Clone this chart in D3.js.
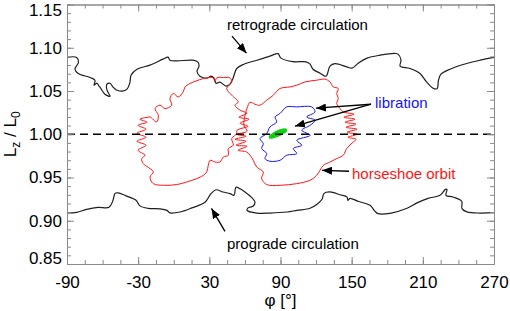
<!DOCTYPE html>
<html>
<head>
<meta charset="utf-8">
<title>Lz / L0 against phi</title>
<script src="https://cdn.jsdelivr.net/npm/d3@7"></script>
<style>
  body { margin: 0; background: #fff; }
  svg text { font-family: "Liberation Sans", Arial, sans-serif; }
</style>
</head>
<body>
<div id="chart"></div>
<script>
// trajectories: [phi (deg), Lz/L0]
var retrograde = [[-90,1.089],[-81.8,1.0888],[-80.3,1.0833],[-83.3,1.0752],[-80.5,1.0703],[-70.6,1.0656],[-66.4,1.0625],
  [-67.2,1.0567],[-64.7,1.059],[-63,1.0556],[-62.2,1.0544],[-58,1.0463],[-53.7,1.044],[-56.3,1.0509],[-56.3,1.0579],
  [-53.7,1.059],[-51.2,1.0544],[-47.8,1.0509],[-43.6,1.0498],[-39.4,1.0521],[-36.9,1.0602],[-36,1.0683],[-31,1.0752],
  [-20,1.0799],[-9.1,1.0868],[-4.8,1.0891],[-3.2,1.0856],[2.7,1.0848],[16.2,1.0856],[20.4,1.0833],[21.3,1.0787],
  [19.6,1.0729],[22.1,1.0671],[28,1.0648],[31.4,1.0671],[33.9,1.0648],[35.6,1.059],[39,1.0602],[44.1,1.0556],
  [47.4,1.0579],[50,1.0648],[53.1,1.076],[59.2,1.081],[70.2,1.0856],[81.1,1.0903],[87.9,1.0932],[90.4,1.088],
  [100.5,1.0839],[111.5,1.0837],[114.9,1.081],[117.4,1.0752],[123.3,1.0706],[128.4,1.0671],[131.7,1.0787],[136,1.0816],
  [145.8,1.0779],[150.3,1.0764],[155.3,1.0818],[162.9,1.088],[173.9,1.0914],[186.5,1.0934],[189.1,1.0926],[191.6,1.0856],
  [190.8,1.0787],[199.2,1.076],[207.6,1.0703],[213.3,1.0602],[218.6,1.0532],[222,1.0527],[223.2,1.0625],[225.3,1.0694],
  [232.9,1.0752],[247,1.0818],[258.2,1.0856],[270,1.0888]];

var prograde = [[-90,0.9091],[-81.8,0.9097],[-73.4,0.9132],[-63.9,0.9155],[-54.6,0.9155],[-51.2,0.9236],[-49.5,0.9317],
  [-47,0.9323],[-40.3,0.9288],[-31.8,0.9236],[-28.5,0.9172],[-21.7,0.9144],[-11.6,0.9138],[-5.7,0.912],[-3.2,0.9091],
  [5.3,0.9101],[15.4,0.9149],[26.3,0.9213],[31,0.9306],[35.6,0.9358],[41.5,0.9332],[47.4,0.9314],[50.8,0.9294],
  [52.5,0.9387],[55.9,0.9369],[60.1,0.9332],[65.1,0.9277],[68.5,0.9213],[66.8,0.9167],[62.6,0.9149],[61.8,0.912],
  [69.9,0.9089],[81.1,0.9089],[95.5,0.9101],[103.9,0.912],[114.9,0.9144],[120.8,0.919],[125,0.9248],[126.7,0.9317],
  [131.7,0.9334],[140.2,0.93],[146.1,0.9274],[146.9,0.9236],[148.6,0.9259],[155.4,0.9225],[165.5,0.9178],[169.7,0.9109],
  [172.2,0.9082],[182.3,0.9086],[196.7,0.9144],[205.1,0.9207],[214.4,0.9259],[224.5,0.9294],[229.1,0.9363],[230.4,0.9363],
  [229.5,0.9294],[235.4,0.9274],[242.8,0.9225],[243,0.914],[247.2,0.9103],[258.2,0.9089],[270,0.9094]];

var horseshoeLeft = [[-24.2,0.9757],[-30.1,0.9815],[-23.4,0.9873],[-31,0.9919],[-23.4,0.9965],[-31,1.0012],[-23.4,1.0058],
  [-30.1,1.0104],[-22.6,1.0139],[-28.5,1.0174],[-21.7,1.0197],[-20,1.02],[-14.4,1.0142],[-13,1.022],[-15.8,1.0297],
  [-11.6,1.0336],[-7.4,1.0297],[-1.7,1.0336],[-3.2,1.0413],[-0.4,1.0471],[3.8,1.0432],[8,1.049],[9.5,1.0547],
  [13.7,1.0587],[20.7,1.0625],[27.8,1.0652],[33.3,1.0652],[34.8,1.0605],[36.2,1.0652],[41.8,1.0656],[47.4,1.0652],
  [48.9,1.0605],[44.6,1.0529],[48.9,1.0451],[54.4,1.0374],[51.6,1.0336],[55.9,1.0278],[61.8,1.0243],[55,1.0197],
  [63.4,1.0174],[55.9,1.0127],[62.6,1.0093],[53.3,1.0046],[53.1,1.0008],[48.9,0.995],[50.2,0.9873],[46,0.9835],
  [46,0.9757],[41.8,0.9737],[39,0.9679],[34.8,0.9679],[30.6,0.9699],[29.1,0.9641],[27.8,0.9564],[24.9,0.9525],
  [19.4,0.9487],[10.9,0.9448],[2.5,0.9418],[-8.8,0.941],[-17.2,0.9429],[-20,0.9506],[-17.2,0.9564],[-20,0.9603],
  [-25.7,0.9661],[-27,0.9719]];

var horseshoeRight = [[64.3,1.037],[68.5,1.0347],[72.7,1.0336],[78.4,1.0394],[83.9,1.0451],[89.6,1.0529],[98,1.0547],
  [103.7,1.0567],[110.7,1.0605],[120.5,1.0625],[127.5,1.0637],[131.7,1.0605],[134.5,1.0547],[138.7,1.0529],[137.4,1.0471],
  [138.7,1.0413],[137.4,1.0355],[140.2,1.0297],[142.9,1.0258],[152,1.0232],[143.5,1.0197],[152.8,1.0174],[144.4,1.0139],
  [153.7,1.0116],[145.2,1.0081],[154.5,1.0058],[146.1,1.0023],[154.5,1.0],[146.9,0.9965],[153.7,0.9942],[151.4,0.9911],
  [145.8,0.9835],[142.9,0.9757],[137.4,0.9719],[131.7,0.9679],[126.1,0.9641],[123.3,0.9583],[120.5,0.9525],[114.9,0.9468],
  [103.7,0.9429],[89.6,0.941],[78.4,0.9418],[74.1,0.9487],[75.5,0.9564],[69.9,0.9621],[67.1,0.9699],[64.3,0.9757],
  [61.5,0.9795],[54.2,0.9815],[61.8,0.9861],[52.5,0.9873],[61,0.9919],[51.6,0.9942],[61,0.9977],[52.5,1.0],
  [61.8,1.0035],[59.2,1.0104],[60.1,1.022],[61.8,1.0301]];

var libration = [[89.6,1.024],[95.2,1.0316],[103.7,1.0316],[116.3,1.0316],[119.1,1.0258],[112.1,1.02],[119.1,1.0162],
  [115,1.0104],[107.9,1.0046],[115,0.9988],[103.7,0.9931],[107.9,0.9873],[100.8,0.9835],[103.7,0.9777],[95.2,0.9757],
  [89.6,0.9699],[81.1,0.9688],[76.9,0.9719],[78.4,0.9777],[74.1,0.9835],[75.5,0.9892],[72.7,0.995],[78.4,1.0008],
  [81.1,1.0085],[86.8,1.0142],[85.4,1.02]];

var librationCore = [[81.1,0.9977],[84.5,1.0012],[89.6,1.0046],[94.2,1.0058],[94.6,1.0035],[90.4,1.0],[85.4,0.9971],[81.1,0.9959]];

var xTicks = [-90, -30, 30, 90, 150, 210, 270];
var yTicks = [0.85, 0.90, 0.95, 1.00, 1.05, 1.10, 1.15];

var labels = [
  {text: "retrograde circulation", phi: 44.9, L: 1.1262, color: "#000"},
  {text: "prograde circulation", phi: 44.9, L: 0.8738, color: "#000"},
  {text: "libration", phi: 169.7, L: 1.0359, color: "#1414ff"},
  {text: "horseshoe orbit", phi: 150.3, L: 0.9549, color: "#ff1414"}
];
var arrows = [
  {from: [49.1, 1.1134], to: [61.3, 1.0937]},
  {from: [43.2, 0.8877], to: [31.8, 0.9143]},
  {from: [166.3, 1.0347], to: [119.9, 1.0301]},
  {from: [166.3, 1.0347], to: [102.2, 1.0093]},
  {from: [147.8, 0.9572], to: [125.0, 0.9583]}
];

var width = 510, height = 311;
var plotLeft = 67, plotRight = 494, plotTop = 4.5, plotBottom = 264;

var svg = d3.select("#chart").append("svg")
    .attr("width", width)
    .attr("height", height);

var x = d3.scaleLinear().domain([-90, 270]).range([plotLeft, plotRight]);
var y = d3.scaleLinear().domain([0.85, 1.15]).range([plotBottom, plotTop]);

svg.append("defs").append("marker")
    .attr("id", "head")
    .attr("markerUnits", "userSpaceOnUse")
    .attr("viewBox", "0 -4 10 8")
    .attr("refX", 10).attr("refY", 0)
    .attr("markerWidth", 10).attr("markerHeight", 8)
    .attr("orient", "auto")
  .append("path")
    .attr("d", "M0,-4L10,0L0,4Z")
    .attr("fill", "#000");

// curves
var openLine = d3.line().x(function(d) { return x(d[0]); }).y(function(d) { return y(d[1]); })
    .curve(d3.curveCatmullRom.alpha(0.5));
var loopLine = d3.line().x(function(d) { return x(d[0]); }).y(function(d) { return y(d[1]); })
    .curve(d3.curveCatmullRomClosed.alpha(0.5));

svg.append("path").attr("d", openLine(retrograde))
    .attr("fill", "none").attr("stroke", "#1e1e1e").attr("stroke-width", 1.2);
svg.append("path").attr("d", openLine(prograde))
    .attr("fill", "none").attr("stroke", "#1e1e1e").attr("stroke-width", 1.2);
svg.append("path").attr("d", loopLine(horseshoeLeft))
    .attr("fill", "none").attr("stroke", "#ff1414").attr("stroke-width", 1);
svg.append("path").attr("d", loopLine(horseshoeRight))
    .attr("fill", "none").attr("stroke", "#ff1414").attr("stroke-width", 1);
svg.append("path").attr("d", loopLine(libration))
    .attr("fill", "none").attr("stroke", "#1414ff").attr("stroke-width", 1);
svg.append("path").attr("d", loopLine(librationCore))
    .attr("fill", "#10d010").attr("stroke", "#10d010").attr("stroke-width", 2);

// dashed reference at Lz/L0 = 1
svg.append("line")
    .attr("x1", x(-90)).attr("x2", x(270))
    .attr("y1", y(1)).attr("y2", y(1))
    .attr("stroke", "#000").attr("stroke-width", 1.5)
    .attr("stroke-dasharray", "8,5");

// axes, ticks inward on all four sides
function styleAxis(g) {
  g.selectAll("path, line").attr("stroke", "#8a8a8a");
  g.selectAll("text").attr("fill", "#000")
    .style("font-family", '"Liberation Sans", Arial, sans-serif')
    .style("font-size", "17px");
}
var minorX = d3.range(-90, 271, 15);
var minorY = d3.range(0, 31).map(function(i) { return 0.85 + i * 0.01; });

svg.append("g").attr("transform", "translate(0," + plotBottom + ")")
    .call(d3.axisBottom(x).tickValues(minorX).tickSize(-4).tickSizeOuter(0).tickFormat(""))
    .call(styleAxis);
svg.append("g").attr("transform", "translate(0," + plotBottom + ")")
    .call(d3.axisBottom(x).tickValues(xTicks).tickSize(-7).tickSizeOuter(0).tickPadding(12)
      .tickFormat(function(d) { return String(d); }))
    .call(styleAxis);
svg.append("g").attr("transform", "translate(0," + plotTop + ")")
    .call(d3.axisTop(x).tickValues(minorX).tickSize(-4).tickSizeOuter(0).tickFormat(""))
    .call(styleAxis);
svg.append("g").attr("transform", "translate(0," + plotTop + ")")
    .call(d3.axisTop(x).tickValues(xTicks).tickSize(-7).tickSizeOuter(0).tickFormat(""))
    .call(styleAxis);
svg.append("g").attr("transform", "translate(" + plotLeft + ",0)")
    .call(d3.axisLeft(y).tickValues(minorY).tickSize(-4).tickSizeOuter(0).tickFormat(""))
    .call(styleAxis);
var yAxisG = svg.append("g").attr("transform", "translate(" + plotLeft + ",0)")
    .call(d3.axisLeft(y).tickValues(yTicks).tickSize(-7).tickSizeOuter(0).tickPadding(5).tickFormat(d3.format(".2f")))
    .call(styleAxis);
// the end labels sit a little inside the frame, as in the original
yAxisG.selectAll("text").attr("y", function(d) { return d === 1.15 ? 5.5 : (d === 0.85 ? -5.5 : 0); });
svg.append("g").attr("transform", "translate(" + plotRight + ",0)")
    .call(d3.axisRight(y).tickValues(minorY).tickSize(-4).tickSizeOuter(0).tickFormat(""))
    .call(styleAxis);
svg.append("g").attr("transform", "translate(" + plotRight + ",0)")
    .call(d3.axisRight(y).tickValues(yTicks).tickSize(-7).tickSizeOuter(0).tickFormat(""))
    .call(styleAxis);

// axis titles
svg.append("text")
    .attr("x", (plotLeft + plotRight) / 2).attr("y", 306)
    .attr("text-anchor", "middle")
    .style("font-size", "17px")
    .text("φ [°]");

var yt = svg.append("text")
    .attr("transform", "translate(16," + (plotTop + plotBottom) / 2 + ") rotate(-90)")
    .attr("text-anchor", "middle")
    .style("font-size", "17px");
yt.append("tspan").text("L");
yt.append("tspan").attr("dy", 4).style("font-size", "12px").text("z");
yt.append("tspan").attr("dy", -4).text(" / L");
yt.append("tspan").attr("dy", 4).style("font-size", "12px").text("0");

// annotations
svg.selectAll(".arrow").data(arrows).enter().append("line")
    .attr("class", "arrow")
    .attr("x1", function(d) { return x(d.from[0]); })
    .attr("y1", function(d) { return y(d.from[1]); })
    .attr("x2", function(d) { return x(d.to[0]); })
    .attr("y2", function(d) { return y(d.to[1]); })
    .attr("stroke", "#000").attr("stroke-width", 1.3)
    .attr("marker-end", "url(#head)");

svg.selectAll(".label").data(labels).enter().append("text")
    .attr("class", "label")
    .attr("x", function(d) { return x(d.phi); })
    .attr("y", function(d) { return y(d.L); })
    .attr("dy", "0.35em")
    .attr("fill", function(d) { return d.color; })
    .style("font-size", "15px")
    .text(function(d) { return d.text; });
</script>
</body>
</html>
